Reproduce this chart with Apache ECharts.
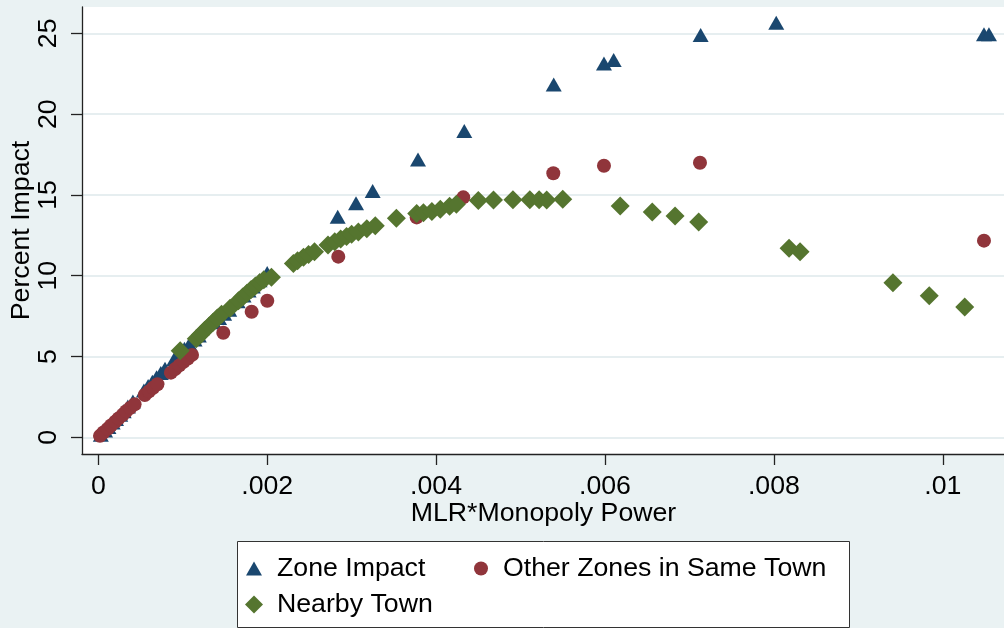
<!DOCTYPE html>
<html>
<head>
<meta charset="utf-8">
<script src="https://cdn.jsdelivr.net/npm/echarts@6/dist/echarts.min.js"></script>
<style>
  html, body { margin: 0; padding: 0; background: #EAF2F3; }
  #chart { width: 1004px; height: 628px; }
</style>
</head>
<body>
<div id="chart"></div>
<script>
// Percent impact against MLR*Monopoly Power, three groups of zones.
const seriesNames = ['Zone Impact', 'Other Zones in Same Town', 'Nearby Town'];

// [MLR*Monopoly Power, Percent Impact]
const zoneImpact = [
  [0.00003, 0.16], [0.00008, 0.42], [0.00012, 0.64], [0.00017, 0.92],
  [0.00021, 1.13], [0.00026, 1.40], [0.00030, 1.62], [0.00035, 1.90],
  [0.00041, 2.22], [0.00054, 2.90], [0.00059, 3.17], [0.00064, 3.44],
  [0.00069, 3.72], [0.00074, 3.98], [0.00079, 4.25], [0.00090, 4.85],
  [0.00096, 5.17], [0.00102, 5.48], [0.00108, 5.78], [0.00114, 6.06],
  [0.00119, 6.30], [0.00137, 7.12], [0.00143, 7.38], [0.00149, 7.64],
  [0.00155, 7.90], [0.00165, 8.42], [0.00172, 8.78], [0.00178, 9.08],
  [0.00183, 9.34], [0.00191, 9.72], [0.00200, 10.17],
  [0.002835, 13.65], [0.003052, 14.48], [0.003249, 15.24], [0.003786, 17.20],
  [0.004334, 18.95], [0.005393, 21.84], [0.005988, 23.14], [0.006103, 23.35],
  [0.007133, 24.90], [0.008028, 25.66], [0.010488, 24.94], [0.010547, 24.94]
];

const otherZones = [
  [0.00002, 0.09], [0.00006, 0.30], [0.00011, 0.52], [0.00015, 0.73],
  [0.00020, 0.96], [0.00024, 1.17], [0.00029, 1.40], [0.00033, 1.61],
  [0.00038, 1.83], [0.00043, 2.04], [0.00055, 2.62], [0.00060, 2.84],
  [0.00065, 3.07], [0.00070, 3.28], [0.00086, 4.00], [0.00091, 4.22],
  [0.00096, 4.45], [0.00101, 4.67], [0.00106, 4.88], [0.00111, 5.10],
  [0.00148, 6.47], [0.001816, 7.77], [0.002001, 8.45], [0.002842, 11.18],
  [0.00377, 13.61], [0.004322, 14.85], [0.005388, 16.34], [0.005988, 16.81],
  [0.007125, 16.99], [0.010488, 12.17]
];

const nearbyTown = [
  [0.00097, 5.35], [0.00116, 6.10], [0.00121, 6.35], [0.00126, 6.62],
  [0.00131, 6.88], [0.00136, 7.12], [0.00141, 7.38], [0.00146, 7.62],
  [0.00156, 7.98], [0.00166, 8.45], [0.00171, 8.68], [0.00176, 8.92],
  [0.00181, 9.15], [0.00186, 9.36], [0.00191, 9.56], [0.00196, 9.75],
  [0.00205, 9.90], [0.00231, 10.75], [0.00236, 10.93], [0.00243, 11.15],
  [0.00249, 11.32], [0.00256, 11.48], [0.00272, 11.90], [0.00280, 12.10],
  [0.00287, 12.27], [0.00294, 12.42], [0.00300, 12.57], [0.00308, 12.70],
  [0.00318, 12.90], [0.00328, 13.10], [0.00353, 13.55], [0.00377, 13.85],
  [0.00385, 13.90], [0.00395, 13.98], [0.00405, 14.12], [0.00416, 14.30],
  [0.00424, 14.42], [0.00450, 14.66], [0.00468, 14.68], [0.00491, 14.70],
  [0.00511, 14.70], [0.00522, 14.70], [0.00531, 14.68], [0.00550, 14.73],
  [0.00618, 14.31], [0.00656, 13.94], [0.00683, 13.70], [0.00711, 13.33],
  [0.00818, 11.70], [0.00831, 11.49], [0.00941, 9.57], [0.00984, 8.76],
  [0.01026, 8.06]
];

const xTicks = [0, 0.002, 0.004, 0.006, 0.008, 0.01];
const xTickLabels = ['0', '.002', '.004', '.006', '.008', '.01'];
const yTicks = [0, 5, 10, 15, 20, 25];

const colors = ['#1A476F', '#90353B', '#55752F'];
const FONT = 'Liberation Sans, Arial, sans-serif';
const FS = 26.7;

function xLabel(v) {
  for (let i = 0; i < xTicks.length; i++) {
    if (Math.abs(xTicks[i] - v) < 1e-9) return xTickLabels[i];
  }
  return '';
}

const chart = echarts.init(document.getElementById('chart'), null, { renderer: 'canvas' });

const axisColor = '#222';

// one legend block per key so each sits at its own spot inside the box
function legendBlock(name, icon, size, left, top, textPad) {
  return {
    data: [{ name: name, icon: icon }],
    left: left, top: top,
    orient: 'horizontal', padding: 0, itemGap: 0,
    itemWidth: size[0], itemHeight: size[1], z: 5,
    textStyle: { fontSize: FS, color: '#000', fontFamily: FONT, padding: [0, 0, 0, textPad] }
  };
}

const option = {
  backgroundColor: '#EAF2F3',
  animation: false,
  textStyle: { fontFamily: FONT },
  grid: {
    left: 82, top: 7, width: 923, height: 447,
    show: true, backgroundColor: '#ffffff', borderWidth: 0,
    containLabel: false, outerBoundsMode: 'none'
  },
  xAxis: {
    type: 'value',
    min: -0.000193, max: 0.010737,
    name: 'MLR*Monopoly Power',
    nameLocation: 'middle', nameGap: 46, nameMoveOverlap: false,
    nameTextStyle: { fontSize: FS, color: '#000', fontFamily: FONT },
    axisLine: { show: true, onZero: false, lineStyle: { color: axisColor, width: 1.3 } },
    axisTick: { show: true, length: 11, customValues: xTicks, lineStyle: { color: axisColor, width: 1.3 } },
    axisLabel: {
      customValues: xTicks, formatter: xLabel, margin: 19,
      fontSize: FS, color: '#000', fontFamily: FONT
    },
    splitLine: { show: false }
  },
  yAxis: {
    type: 'value',
    min: -1.033, max: 26.63,
    name: 'Percent Impact',
    nameLocation: 'middle', nameGap: 47, nameMoveOverlap: false,
    nameTextStyle: { fontSize: FS, color: '#000', fontFamily: FONT },
    axisLine: { show: true, onZero: false, lineStyle: { color: axisColor, width: 1.3 } },
    axisTick: { show: true, length: 11, customValues: yTicks, lineStyle: { color: axisColor, width: 1.3 } },
    axisLabel: {
      customValues: yTicks, rotate: 90, margin: 20,
      fontSize: FS, color: '#000', fontFamily: FONT
    },
    splitLine: { show: true, lineStyle: { color: '#E6EEF0', width: 2 } }
  },
  graphic: [{
    type: 'rect', z: 0,
    shape: { x: 237.5, y: 541.5, width: 612, height: 86 },
    style: { fill: '#ffffff', stroke: '#333333', lineWidth: 1 }
  }],
  legend: [
    legendBlock(seriesNames[0], 'triangle', [16, 14], 246, 555, 10),
    legendBlock(seriesNames[1], 'circle', [14, 14], 474, 555, 10),
    legendBlock(seriesNames[2], 'diamond', [18, 18], 245, 591, 9)
  ],
  series: [
    {
      name: seriesNames[0], type: 'scatter', data: zoneImpact,
      symbol: 'triangle', symbolSize: [16, 14],
      itemStyle: { color: colors[0], opacity: 1 }
    },
    {
      name: seriesNames[1], type: 'scatter', data: otherZones,
      symbol: 'circle', symbolSize: 14,
      itemStyle: { color: colors[1], opacity: 1 }
    },
    {
      name: seriesNames[2], type: 'scatter', data: nearbyTown,
      symbol: 'diamond', symbolSize: [19, 19],
      itemStyle: { color: colors[2], opacity: 1 }
    }
  ]
};

chart.setOption(option);
</script>
</body>
</html>
